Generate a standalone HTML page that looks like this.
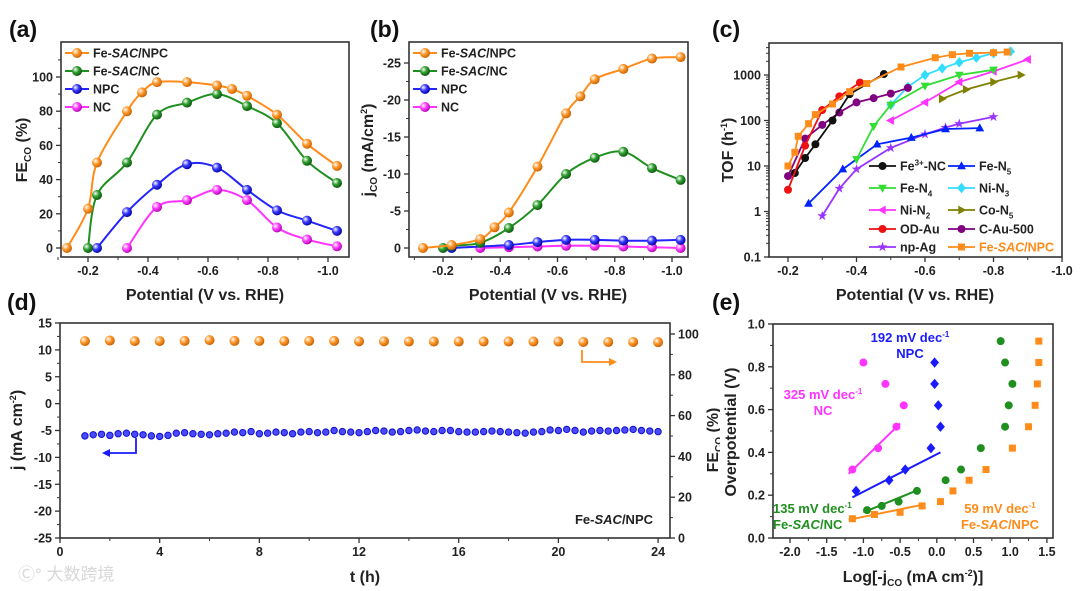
<!DOCTYPE html>
<html><head><meta charset="utf-8">
<style>
html,body{margin:0;padding:0;background:#fff;}
svg{display:block;font-family:"Liberation Sans","Noto Sans CJK SC",sans-serif;font-weight:bold;}
</style></head>
<body>
<svg id="fig" width="1080" height="591" viewBox="0 0 1080 591">
<defs id="defs"></defs>
</svg>
<script>
// ---------- DATA ----------
// Panel a: FE_CO (%) vs potential
const aFeNpcX=[-0.13,-0.2,-0.23,-0.33,-0.38,-0.43,-0.53,-0.63,-0.68,-0.73,-0.83,-0.93,-1.03];
const aFeNpcY=[0,23,50,80,91,97,97,95,93,89,78,61,48];
const aFeNcX=[-0.2,-0.23,-0.33,-0.43,-0.53,-0.63,-0.73,-0.83,-0.93,-1.03];
const aFeNcY=[0,31,50,78,85,90,83,73,51,38];
const aNpcX=[-0.23,-0.33,-0.43,-0.53,-0.63,-0.73,-0.83,-0.93,-1.03];
const aNpcY=[0,21,37,49,47,34,22,16,10];
const aNcX=[-0.33,-0.43,-0.53,-0.63,-0.73,-0.83,-0.93,-1.03];
const aNcY=[0,24,28,34,28,12,5,1];
const aXTicks=[-0.2,-0.4,-0.6,-0.8,-1.0];
const aXTickLabels=["-0.2","-0.4","-0.6","-0.8","-1.0"];
const aYTicks=[0,20,40,60,80,100];
// Panel b: j_CO magnitude (mA/cm2)
const bFeNpcX=[-0.13,-0.23,-0.33,-0.38,-0.43,-0.53,-0.63,-0.68,-0.73,-0.83,-0.93,-1.03];
const bFeNpcY=[0,0.4,1.2,2.8,4.8,11,18.2,20.5,22.8,24.2,25.6,25.8];
const bFeNcX=[-0.2,-0.23,-0.33,-0.43,-0.53,-0.63,-0.73,-0.83,-0.93,-1.03];
const bFeNcY=[0,0.3,0.7,2.7,5.8,10,12.2,13,10.8,9.2];
const bNpcX=[-0.23,-0.43,-0.53,-0.63,-0.73,-0.83,-0.93,-1.03];
const bNpcY=[0,0.4,0.8,1.1,1.1,1.0,1.0,1.1];
const bNcX=[-0.33,-0.43,-0.53,-0.63,-0.73,-0.83,-0.93,-1.03];
const bNcY=[0,0.1,0.2,0.3,0.3,0.2,0.1,0.0];
const bYTicks=[0,5,10,15,20,25];
const bYTickLabels=["0","-5","-10","-15","-20","-25"];
// Panel c: TOF
const cFe3X=[-0.22,-0.25,-0.28,-0.33,-0.38,-0.48];
const cFe3Y=[7,15,30,100,380,1050];
const cFeN5X=[-0.26,-0.36,-0.46,-0.56,-0.66,-0.76];
const cFeN5Y=[1.5,8.5,30,42,65,68];
const cFeN4X=[-0.4,-0.45,-0.5,-0.6,-0.7,-0.8];
const cFeN4Y=[14,75,220,580,1000,1300];
const cNiN3X=[-0.5,-0.55,-0.6,-0.65,-0.7,-0.75,-0.8,-0.85];
const cNiN3Y=[220,550,1000,1400,1900,2400,3000,3300];
const cNiN2X=[-0.5,-0.6,-0.7,-0.8,-0.9];
const cNiN2Y=[100,250,700,1200,2200];
const cCoN5X=[-0.65,-0.72,-0.8,-0.88];
const cCoN5Y=[300,480,700,1000];
const cOdAuX=[-0.2,-0.25,-0.3,-0.35,-0.41];
const cOdAuY=[3,28,170,340,680];
const cCAuX=[-0.2,-0.25,-0.3,-0.35,-0.4,-0.45,-0.5,-0.55];
const cCAuY=[6,40,80,150,250,310,390,520];
const cNpAgX=[-0.3,-0.35,-0.4,-0.5,-0.6,-0.66,-0.7,-0.8];
const cNpAgY=[0.8,3.2,8.5,25,50,70,85,120];
const cFeSacX=[-0.2,-0.22,-0.23,-0.26,-0.28,-0.33,-0.38,-0.43,-0.53,-0.63,-0.68,-0.73,-0.8,-0.84];
const cFeSacY=[10,20,45,85,135,230,430,650,1500,2400,2800,3000,3100,3200];
const cYTicks=[0.1,1,10,100,1000];
const cYTickLabels=["0.1","1","10","100","1000"];
const cXTicks=[-0.2,-0.4,-0.6,-0.8,-1.0];
// Panel d: stability
const dFeHours=[1,2,3,4,5,6,7,8,9,10,11,12,13,14,15,16,17,18,19,20,21,22,23,24];
const dFeValues=[96.5,96.8,96.5,96.5,96.6,97,96.6,96.6,96.5,96.6,96.6,96.4,96.4,96.3,96.3,96.3,96.3,96.3,96.3,96.3,96.1,96.1,96.1,96.0];
const dJValues=[-6.0,-5.8,-5.7,-5.9,-5.6,-5.5,-5.7,-5.8,-6.0,-6.1,-5.9,-5.5,-5.4,-5.6,-5.7,-5.8,-5.6,-5.5,-5.3,-5.4,-5.2,-5.6,-5.5,-5.3,-5.4,-5.6,-5.3,-5.2,-5.4,-5.3,-5.0,-5.2,-5.3,-5.4,-5.2,-5.0,-5.1,-5.3,-5.2,-5.0,-4.9,-5.1,-5.2,-5.0,-5.0,-5.2,-5.3,-5.3,-5.2,-5.1,-5.2,-5.3,-5.4,-5.5,-5.3,-5.2,-4.9,-5.0,-4.8,-5.0,-5.3,-5.1,-5.0,-5.1,-5.0,-4.9,-4.8,-5.0,-5.1,-5.2];
const dJStart=1, dJStep=1/3;
const dXTicks=[0,4,8,12,16,20,24];
const dYLTicks=[15,10,5,0,-5,-10,-15,-20,-25];
const dYRTicks=[0,20,40,60,80,100];
// Panel e: Tafel
const eNcX=[-1.15,-0.8,-0.55,-0.45,-0.7,-1.0];
const eNcY=[0.32,0.42,0.52,0.62,0.72,0.82];
const eNpcX=[-1.1,-0.65,-0.43,-0.08,0.05,0.02,-0.03,-0.03];
const eNpcY=[0.22,0.27,0.32,0.42,0.52,0.62,0.72,0.82];
const eFeNcX=[-0.95,-0.75,-0.52,-0.27,0.12,0.33,0.6,0.93,0.98,1.03,0.93,0.87];
const eFeNcY=[0.13,0.15,0.17,0.22,0.27,0.32,0.42,0.52,0.62,0.72,0.82,0.92];
const eFeNpcX=[-1.15,-0.85,-0.5,-0.2,0.05,0.22,0.44,0.67,1.03,1.25,1.34,1.37,1.39,1.39];
const eFeNpcY=[0.09,0.11,0.12,0.15,0.17,0.22,0.27,0.32,0.42,0.52,0.62,0.72,0.82,0.92];
const eFitNcX=[-1.2,-0.5], eFitNcY=[0.30,0.535];
const eFitNpcX=[-1.15,0.05], eFitNpcY=[0.19,0.40];
const eFitFeNcX=[-1.0,-0.25], eFitFeNcY=[0.12,0.225];
const eFitFeNpcX=[-1.2,-0.2], eFitFeNpcY=[0.085,0.155];
const eXTicks=[-2.0,-1.5,-1.0,-0.5,0.0,0.5,1.0,1.5];
const eYTicks=[0.0,0.2,0.4,0.6,0.8,1.0];

// ---------- HELPERS ----------
const NS='http://www.w3.org/2000/svg';
const svg=document.getElementById('fig');
const defs=document.getElementById('defs');
function mk(tag,attrs,parent){const e=document.createElementNS(NS,tag);for(const k in attrs)e.setAttribute(k,attrs[k]);(parent||svg).appendChild(e);return e;}
function grad(id,c,dark){const g=mk('radialGradient',{id:id,cx:'35%',cy:'35%',r:'70%'},defs);
 mk('stop',{offset:'0%','stop-color':'#ffffff'},g);mk('stop',{offset:'45%','stop-color':c},g);mk('stop',{offset:'100%','stop-color':dark},g);}
grad('g-or','#ff9a2e','#c45f00');grad('g-gr','#2ea02e','#0c500c');grad('g-bl','#3a3aff','#0000a0');grad('g-pk','#ff40ff','#b000b0');
function text(x,y,s,attrs,parent){const t=mk('text',Object.assign({x:x,y:y,'font-size':12},attrs||{}),parent);t.textContent=s;return t;}
function catmull(pts){let d='M'+pts[0][0]+','+pts[0][1];
 for(let i=0;i<pts.length-1;i++){const p0=pts[Math.max(0,i-1)],p1=pts[i],p2=pts[i+1],p3=pts[Math.min(pts.length-1,i+2)];
  const c1x=p1[0]+(p2[0]-p0[0])/6,c1y=p1[1]+(p2[1]-p0[1])/6,c2x=p2[0]-(p3[0]-p1[0])/6,c2y=p2[1]-(p3[1]-p1[1])/6;
  d+=' C'+c1x+','+c1y+' '+c2x+','+c2y+' '+p2[0]+','+p2[1];}
 return d;}
function shape(type,x,y,r,color,parent){let e;
 if(type==='circle')e=mk('circle',{cx:x,cy:y,r:r,fill:color},parent);
 else if(type==='square')e=mk('rect',{x:x-r,y:y-r,width:2*r,height:2*r,fill:color},parent);
 else{let p;
  if(type==='up')p=[[0,-r*1.2],[r*1.1,r*0.8],[-r*1.1,r*0.8]];
  else if(type==='down')p=[[0,r*1.2],[r*1.1,-r*0.8],[-r*1.1,-r*0.8]];
  else if(type==='left')p=[[-r*1.2,0],[r*0.8,-r*1.1],[r*0.8,r*1.1]];
  else if(type==='right')p=[[r*1.2,0],[-r*0.8,-r*1.1],[-r*0.8,r*1.1]];
  else if(type==='diamond')p=[[0,-r*1.3],[r*1.1,0],[0,r*1.3],[-r*1.1,0]];
  else {p=[];for(let k=0;k<10;k++){const a=-Math.PI/2+k*Math.PI/5,rr=k%2?r*0.5:r*1.3;p.push([rr*Math.cos(a),rr*Math.sin(a)]);}}
  e=mk('polygon',{points:p.map(q=>(x+q[0])+','+(y+q[1])).join(' '),fill:color},parent);}
 return e;}
function box(x0,y0,x1,y1,parent){return mk('rect',{x:x0,y:y0,width:x1-x0,height:y1-y0,fill:'none',stroke:'#333',"stroke-width":1.6},parent);}
function xTicks(vals,labels,fx,yb,parent,minorVals){
 vals.forEach((v,i)=>{const x=fx(v);mk('line',{x1:x,y1:yb,x2:x,y2:yb+5,stroke:'#333','stroke-width':1.3},parent);
  const t=text(x,yb+18,labels[i],{'text-anchor':'middle','font-size':12.5,fill:'#222'},parent);
  
  });
 (minorVals||[]).forEach(v=>{const x=fx(v);mk('line',{x1:x,y1:yb,x2:x,y2:yb+3,stroke:'#333','stroke-width':1},parent);});}
function yTicks(vals,labels,fy,xb,parent,minorVals,right){
 const s=right?1:-1;
 vals.forEach((v,i)=>{const y=fy(v);mk('line',{x1:xb,y1:y,x2:xb+s*5,y2:y,stroke:'#333','stroke-width':1.3},parent);
  const t=text(xb+s*8,y+4.5,labels[i],{'text-anchor':right?'start':'end','font-size':12.5,fill:'#222'},parent);
  
  });
 (minorVals||[]).forEach(v=>{const y=fy(v);mk('line',{x1:xb,y1:y,x2:xb+s*3,y2:y,stroke:'#333','stroke-width':1},parent);});}
function panelLabel(x,y,s){const t=text(x,y,s,{'font-size':23,fill:'#111'});
 
 }
function richText(x,y,parts,attrs,parent){const t=mk('text',Object.assign({x:x,y:y},attrs),parent);
 parts.forEach(p=>{const ts=mk('tspan',p[1]||{},t);ts.textContent=p[0];});return t;}
function seriesSmooth(xs,ys,fx,fy,color,gradId,parent,name){
 const g=mk('g',{},parent);
 
 
 const pts=xs.map((v,i)=>[fx(v),fy(ys[i])]);
 mk('path',{d:catmull(pts),fill:'none',stroke:color,'stroke-width':2},g);
 pts.forEach(p=>{const c=mk('circle',{cx:p[0],cy:p[1],r:5,fill:'url(#'+gradId+')'},g);
  
  });}
function legendSmooth(x,y,label,color,gradId,parent,italicParts){
 const g=mk('g',{},parent);
 
 
 mk('line',{x1:x,y1:y,x2:x+24,y2:y,stroke:color,'stroke-width':2},g);
 mk('circle',{cx:x+12,cy:y,r:5,fill:'url(#'+gradId+')'},g);
 richText(x+28,y+4.5,italicParts||[[label]],{'font-size':12.5,fill:'#222'},g);}
const fe=[["Fe-"],["SAC",{'font-style':'italic'}],["/NPC"]];
const fenc=[["Fe-"],["SAC",{'font-style':'italic'}],["/NC"]];

// ---------- PANEL A ----------
(function(){
 const P=mk('g',{});
 
 
 const fx=v=>88+(-v-0.2)*300, fy=v=>248-v*1.71;
 box(61,42,349,257,P);
 xTicks(aXTicks,aXTickLabels,fx,257,P,[-0.1,-0.3,-0.5,-0.7,-0.9]);
 yTicks(aYTicks,aYTicks.map(String),fy,61,P,[10,30,50,70,90,110]);
 seriesSmooth(aNcX,aNcY,fx,fy,'#ff33ff','g-pk',P,'nc-series');
 seriesSmooth(aNpcX,aNpcY,fx,fy,'#2424ff','g-bl',P,'npc-series');
 seriesSmooth(aFeNcX,aFeNcY,fx,fy,'#1f8f1f','g-gr',P,'fe-sac-nc-series');
 seriesSmooth(aFeNpcX,aFeNpcY,fx,fy,'#ff8c1a','g-or',P,'fe-sac-npc-series');
 legendSmooth(65,53,'',"#ff8c1a",'g-or',P,fe);
 legendSmooth(65,71,'',"#1f8f1f",'g-gr',P,fenc);
 legendSmooth(65,89,'NPC',"#2424ff",'g-bl',P);
 legendSmooth(65,107,'NC',"#ff33ff",'g-pk',P);
 const xt=text(205,300,'Potential (V vs. RHE)',{'text-anchor':'middle','font-size':16,fill:'#222'},P);
 
 
 const yt=richText(0,0,[["FE"],["CO",{'font-size':10,dy:4}],[" (%)",{dy:-4}]],{'font-size':16,fill:'#222','text-anchor':'middle',transform:'translate(27,150) rotate(-90)'},P);
 
 
})();
panelLabel(9,37,'(a)');

// ---------- PANEL B ----------
(function(){
 const P=mk('g',{});
 
 
 const fx=v=>443+(-v-0.2)*286.25, fy=v=>248-v*7.4;
 box(409,42,688,257,P);
 xTicks(aXTicks,aXTickLabels,fx,257,P,[-0.1,-0.3,-0.5,-0.7,-0.9]);
 yTicks(bYTicks,bYTickLabels,fy,409,P,[2.5,7.5,12.5,17.5,22.5]);
 seriesSmooth(bNcX,bNcY,fx,fy,'#ff33ff','g-pk',P,'nc-series');
 seriesSmooth(bNpcX,bNpcY,fx,fy,'#2424ff','g-bl',P,'npc-series');
 seriesSmooth(bFeNcX,bFeNcY,fx,fy,'#1f8f1f','g-gr',P,'fe-sac-nc-series');
 seriesSmooth(bFeNpcX,bFeNpcY,fx,fy,'#ff8c1a','g-or',P,'fe-sac-npc-series');
 legendSmooth(413,53,'',"#ff8c1a",'g-or',P,fe);
 legendSmooth(413,71,'',"#1f8f1f",'g-gr',P,fenc);
 legendSmooth(413,89,'NPC',"#2424ff",'g-bl',P);
 legendSmooth(413,107,'NC',"#ff33ff",'g-pk',P);
 const xt=text(548,300,'Potential (V vs. RHE)',{'text-anchor':'middle','font-size':16,fill:'#222'},P);
 
 
 const yt=richText(0,0,[["j"],["CO",{'font-size':10,dy:4}],[" (mA/cm",{dy:-4}],["2",{'font-size':9,dy:-6}],[")",{dy:6}]],{'font-size':16,fill:'#222','text-anchor':'middle',transform:'translate(373,150) rotate(-90)'},P);
 
 
})();
panelLabel(370,37,'(b)');

// ---------- PANEL C ----------
(function(){
 const P=mk('g',{});
 
 
 const fx=v=>788+(-v-0.2)*342.5, fy=v=>257-(Math.log10(v)+1)*45.5;
 box(769,43,1062,257,P);
 xTicks(cXTicks,aXTickLabels,fx,257,P,[-0.3,-0.5,-0.7,-0.9]);
 const minor=[];[0.1,1,10,100,1000].forEach(d=>{for(let k=2;k<=9;k++){if(d*k<5000)minor.push(d*k);}});
 yTicks(cYTicks,cYTickLabels,fy,769,P,minor);
 const S=[
  ['np-ag-series',cNpAgX,cNpAgY,'#9933ff','star','np-Ag'],
  ['fe-n5-series',cFeN5X,cFeN5Y,'#0022ff','up','Fe-N5'],
  ['co-n5-series',cCoN5X,cCoN5Y,'#808000','right','Co-N5'],
  ['ni-n2-series',cNiN2X,cNiN2Y,'#ff33ff','left','Ni-N2'],
  ['ni-n3-series',cNiN3X,cNiN3Y,'#33ddff','diamond','Ni-N3'],
  ['fe-n4-series',cFeN4X,cFeN4Y,'#33dd33','down','Fe-N4'],
  ['c-au-500-series',cCAuX,cCAuY,'#800080','circle','C-Au-500'],
  ['fe3-nc-series',cFe3X,cFe3Y,'#111111','circle','Fe3+-NC'],
  ['od-au-series',cOdAuX,cOdAuY,'#ee1111','circle','OD-Au'],
  ['fe-sac-npc-series',cFeSacX,cFeSacY,'#ff8c1a','square','Fe-SAC/NPC']];
 S.forEach(s=>{const g=mk('g',{},P);
  
  
  const pts=s[1].map((v,i)=>[fx(v),fy(s[2][i])]);
  mk('polyline',{points:pts.map(p=>p.join(',')).join(' '),fill:'none',stroke:s[3],'stroke-width':1.8},g);
  pts.forEach(p=>{const m=shape(s[4],p[0],p[1],s[4]==='square'?3.5:4,s[3],g);
   
   });});
 const L=[
  [869,166,'#111111','circle',[["Fe"],["3+",{'font-size':8,dy:-5}],["-NC",{dy:5}]]],
  [948,166,'#0022ff','up',[["Fe-N"],["5",{'font-size':8,dy:4}]]],
  [869,188,'#33dd33','down',[["Fe-N"],["4",{'font-size':8,dy:4}]]],
  [948,188,'#33ddff','diamond',[["Ni-N"],["3",{'font-size':8,dy:4}]]],
  [869,210,'#ff33ff','left',[["Ni-N"],["2",{'font-size':8,dy:4}]]],
  [948,210,'#808000','right',[["Co-N"],["5",{'font-size':8,dy:4}]]],
  [869,229,'#ee1111','circle',[["OD-Au"]]],
  [948,229,'#800080','circle',[["C-Au-500"]]],
  [869,247,'#9933ff','star',[["np-Ag"]]],
  [948,247,'#ff8c1a','square',[["Fe-"],["SAC",{'font-style':'italic'}],["/NPC"]]]];
 L.forEach(l=>{const g=mk('g',{},P);
  
  
  mk('line',{x1:l[0],y1:l[1],x2:l[0]+27,y2:l[1],stroke:l[2],'stroke-width':1.8},g);
  shape(l[3],l[0]+13.5,l[1],l[3]==='square'?3.5:4,l[2],g);
  richText(l[0]+31,l[1]+4.5,l[4],{'font-size':12.5,fill:l[3]==='square'?'#ff8c1a':'#222'},g);});
 const xt=text(915,300,'Potential (V vs. RHE)',{'text-anchor':'middle','font-size':16,fill:'#222'},P);
 
 
 const yt=richText(0,0,[["TOF (h"],["-1",{'font-size':9,dy:-6}],[")",{dy:6}]],{'font-size':16,fill:'#222','text-anchor':'middle',transform:'translate(733,150) rotate(-90)'},P);
 
 
})();
panelLabel(712,37,'(c)');

// ---------- PANEL D ----------
(function(){
 const P=mk('g',{});
 
 
 const fx=t=>60+t*24.92, fyl=j=>538-(j+25)*5.375, fyr=f=>538-f*2.04;
 box(60,323,670,538,P);
 xTicks(dXTicks,dXTicks.map(String),fx,538,P,[2,6,10,14,18,22]);
 yTicks(dYLTicks,dYLTicks.map(String),fyl,60,P,[12.5,7.5,2.5,-2.5,-7.5,-12.5,-17.5,-22.5]);
 yTicks(dYRTicks,dYRTicks.map(String),fyr,670,P,[10,30,50,70,90],true);
 const gj=mk('g',{},P);
 
 
 dJValues.forEach((v,i)=>{const c=mk('circle',{cx:fx(dJStart+i*dJStep),cy:fyl(v),r:3.2,fill:'#4a4aff',stroke:'#1010d0','stroke-width':1},gj);
  
  });
 const gf=mk('g',{},P);
 
 
 dFeHours.forEach((t,i)=>{const c=mk('circle',{cx:fx(t),cy:fyr(dFeValues[i]),r:5,fill:'url(#g-or)'},gf);
  
  });
 const a1=mk('path',{d:'M136,438 L136,453 L108,453',fill:'none',stroke:'#1a1aff','stroke-width':1.8},P);
 
 
 mk('polygon',{points:'102,453 110,449 110,457',fill:'#1a1aff'},P);
 const a2=mk('path',{d:'M582,350 L582,362 L611,362',fill:'none',stroke:'#ff8c1a','stroke-width':1.8},P);
 
 
 mk('polygon',{points:'617,362 609,358 609,366',fill:'#ff8c1a'},P);
 const lb=richText(653,524,[["Fe-"],["SAC",{'font-style':'italic'}],["/NPC"]],{'font-size':13,fill:'#222','text-anchor':'end'},P);
 
 
 const xt=text(365,582,'t (h)',{'text-anchor':'middle','font-size':16,fill:'#222'},P);
 
 
 const yt=richText(0,0,[["j (mA cm"],["-2",{'font-size':9,dy:-6}],[")",{dy:6}]],{'font-size':16,fill:'#222','text-anchor':'middle',transform:'translate(22,430) rotate(-90)'},P);
 
 
 const yr=richText(0,0,[["FE"],["CO",{'font-size':10,dy:4}],[" (%)",{dy:-4}]],{'font-size':16,fill:'#222','text-anchor':'middle',transform:'translate(718,440) rotate(-90)'},P);
 
 
 const wm=text(18,580,'\u24b8\u00b0 大数跨境',{'font-size':17,fill:'#d8d8d8','font-weight':'normal'},P);
 
 
})();
panelLabel(7,310,'(d)');

// ---------- PANEL E ----------
(function(){
 const P=mk('g',{});
 
 
 const fx=v=>790+(v+2)*73.4, fy=v=>538-v*214;
 mk('rect',{x:720,y:380,width:30,height:160,fill:'#fff'},P);
 box(773,324,1053,538,P);
 xTicks(eXTicks,eXTicks.map(v=>v.toFixed(1)),fx,538,P,[-1.75,-1.25,-0.75,-0.25,0.25,0.75,1.25]);
 yTicks(eYTicks,eYTicks.map(v=>v.toFixed(1)),fy,773,P,[0.1,0.3,0.5,0.7,0.9]);
 const S=[['nc-tafel',eNcX,eNcY,eFitNcX,eFitNcY,'#ff33ff','circle'],
  ['npc-tafel',eNpcX,eNpcY,eFitNpcX,eFitNpcY,'#1a1aff','diamond'],
  ['fe-sac-nc-tafel',eFeNcX,eFeNcY,eFitFeNcX,eFitFeNcY,'#1f8f1f','circle'],
  ['fe-sac-npc-tafel',eFeNpcX,eFeNpcY,eFitFeNpcX,eFitFeNpcY,'#ff8c1a','square']];
 S.forEach(s=>{const g=mk('g',{},P);
  
  
  s[1].forEach((v,i)=>{const m=shape(s[6],fx(v),fy(s[2][i]),s[6]==='square'?3.5:4,s[5],g);
   
   });
  const f=mk('line',{x1:fx(s[3][0]),y1:fy(s[4][0]),x2:fx(s[3][1]),y2:fy(s[4][1]),stroke:s[5],'stroke-width':2},g);
  
  });
 function ann(x,y,c,lines,anchor){const g=mk('g',{},P);
  
  
  richText(x,y,[[lines[0]],["-1",{'font-size':8,dy:-5}]],{'font-size':13,fill:c,'text-anchor':anchor},g);
  richText(x,y+16,lines[1],{'font-size':13,fill:c,'text-anchor':anchor},g);}
 ann(910,342,'#1a1aff',['192 mV dec',[["NPC"]]],'middle');
 ann(823,399,'#ff33ff',['325 mV dec',[["NC"]]],'middle');
 ann(773,513,'#1f8f1f',['135 mV dec',[["Fe-"],["SAC",{'font-style':'italic'}],["/NC"]]],'start');
 ann(1000,513,'#ff8c1a',['59 mV dec',[["Fe-"],["SAC",{'font-style':'italic'}],["/NPC"]]],'middle');
 const xt=richText(913,582,[["Log[-j"],["CO",{'font-size':10,dy:4}],[" (mA cm",{dy:-4}],["-2",{'font-size':9,dy:-6}],[")]",{dy:6}]],{'font-size':16,fill:'#222','text-anchor':'middle'},P);
 
 
 const yt=text(0,0,'Overpotential (V)',{'font-size':16,fill:'#222','text-anchor':'middle',transform:'translate(736,432) rotate(-90)'},P);
 
 
})();
panelLabel(712,310,'(e)');
</script>
</body></html>
